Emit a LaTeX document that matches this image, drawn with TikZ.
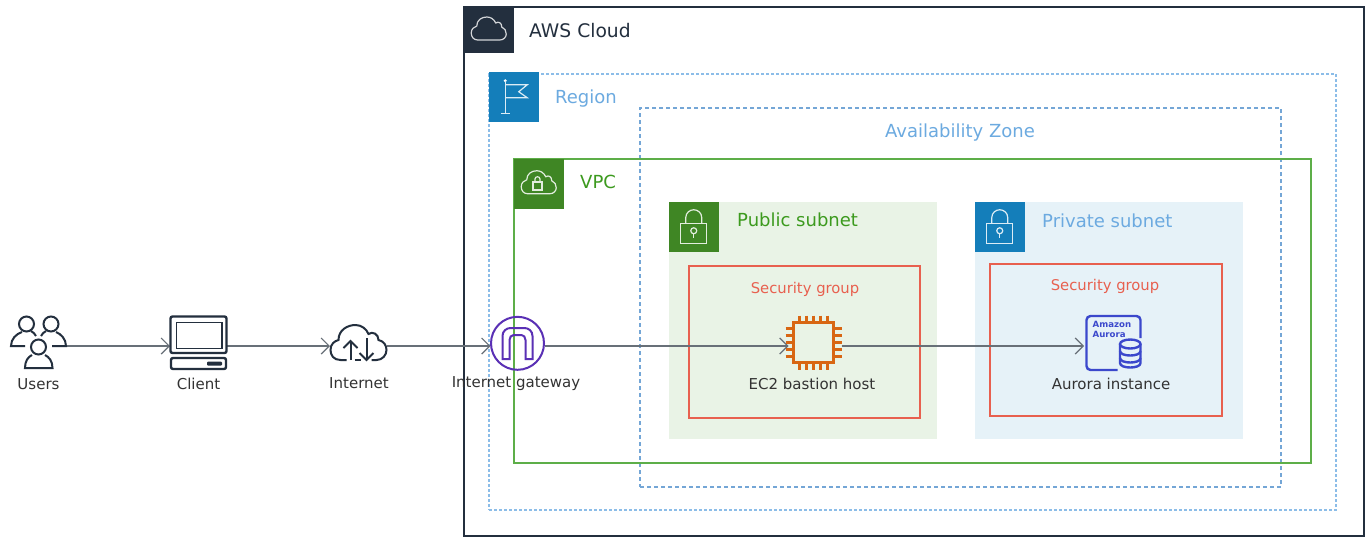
\documentclass[tikz,border=0pt]{standalone}
\usepackage{fontspec}
\setmainfont{DejaVu Sans}
\usepackage{tikz}
\usetikzlibrary{arrows.meta,positioning,calc}
\definecolor{awsnavy}{HTML}{232F3E}
\definecolor{awsblue}{HTML}{147EBA}
\definecolor{awsgreen}{HTML}{3F8624}
\definecolor{awsred}{HTML}{E8604F}
\definecolor{regionline}{HTML}{8CBDE8}
\definecolor{zoneline}{HTML}{74A6D6}
\definecolor{bluetext}{HTML}{6CAAE0}
\definecolor{greentext}{HTML}{3C9A1E}
\definecolor{vpcline}{HTML}{5DAE48}
\definecolor{publicfill}{HTML}{E9F3E6}
\definecolor{privatefill}{HTML}{E6F2F8}
\definecolor{flowline}{HTML}{687078}
\definecolor{labeltext}{HTML}{333333}
\definecolor{gatewaypurple}{HTML}{5A30B5}
\definecolor{chiporange}{HTML}{D86613}
\definecolor{auroraindigo}{HTML}{3B48CC}
\begin{document}
\begin{tikzpicture}[
  x=1pt, y=-1pt,
  flow/.style={draw=flowline, line width=1.2pt, -{Straight Barb[length=8pt,width=16pt,line width=1.2pt]}},
  holder/.style={anchor=north west, inner sep=0pt, outer sep=0pt},
  tile/.style={anchor=north west, inner sep=0pt, outer sep=0pt, minimum width=49.5pt, minimum height=49.5pt},
  iconspot/.style={inner sep=0pt, outer sep=0pt, minimum width=#1, minimum height=10pt},
  heading/.style={anchor=west, inner sep=0pt, font=\fontsize{18}{22}\selectfont},
  sgheading/.style={inner sep=0pt, text=awsred, font=\fontsize{14.8}{18}\selectfont},
  caption/.style={inner sep=0pt, text=labeltext, font=\fontsize{15}{18}\selectfont},
  cloudoutline/.pic={
    \draw (-11,10) .. controls (-15,10) and (-17.5,7) .. (-17.5,3) .. controls (-17.5,-1) and (-15,-3) .. (-12,-4)
      .. controls (-12,-10) and (-7,-13) .. (-2,-13) .. controls (2,-13) and (5,-11) .. (7,-7)
      .. controls (10,-9) and (13,-7) .. (13,-3) .. controls (16,-2) and (17.5,1) .. (17.5,4)
      .. controls (17.5,7) and (15,10) .. (11,10) -- cycle;
  },
  padlock/.pic={
    \draw (-13,-3) rectangle (13,17);
    \draw (-8,-3) -- (-8,-9) .. controls (-8,-14) and (-4,-17) .. (0,-17) .. controls (4,-17) and (8,-14) .. (8,-9) -- (8,-3);
    \draw (0,4) circle[radius=3pt];
    \draw (0,7) -- (0,11);
  },
  flagicon/.pic={
    \fill[white] (-8.5,-16) circle[radius=1.6pt];
    \draw (-8.5,-16) -- (-8.5,17);
    \draw (-13,17) -- (-4,17);
    \draw (-8.5,-12) -- (13.5,-12) -- (5,-5) -- (13.5,1) -- (-8.5,1);
  },
  usersicon/.pic={
    \draw (-11.5,-21) circle[radius=7.5pt];
    \draw (13,-21) circle[radius=7.5pt];
    \draw (0.5,2) circle[radius=7.5pt];
    \draw (-6,10) .. controls (-10,12) and (-13,16) .. (-13,23) -- (14.5,23) .. controls (14.5,16) and (11,12) .. (7,10);
    \draw (-16,-13) .. controls (-22,-11) and (-27,-6) .. (-27,1) -- (-13,1);
    \draw (-7,-14) .. controls (-5,-13) and (-3,-11) .. (-2,-9);
    \draw (18,-13) .. controls (23,-11) and (28,-6) .. (28,1) -- (14,1);
    \draw (8,-14) .. controls (6,-13) and (4,-11) .. (3,-9);
  },
  clienticon/.pic={
    \draw[rounded corners=2pt, line width=2.4pt] (-28,-29.5) rectangle (28,7);
    \draw[line width=1.8pt] (-22,-23.5) rectangle (23.5,2.5);
    \draw[rounded corners=2pt, line width=2.4pt] (-27.5,12) rectangle (27.5,23);
    \fill[awsnavy, rounded corners=1pt] (8.5,15.5) rectangle (23.5,19.5);
  },
  interneticon/.pic={
    \draw (-12,14) -- (-18,14) .. controls (-25,14) and (-28,9) .. (-28,4) .. controls (-28,-2) and (-24,-5) .. (-20,-6)
      .. controls (-20,-16) and (-11,-21) .. (-3,-21) .. controls (3,-21) and (8,-17) .. (10,-12)
      .. controls (14,-15) and (20,-12) .. (20,-6) .. controls (25,-5) and (28,-1) .. (28,4)
      .. controls (28,9) and (24,14) .. (18,14) -- (13,14);
    \draw (-4,14) -- (2,14);
    \draw (-8,14) -- (-8,-5);
    \draw (-15,2) -- (-8,-5) -- (-1,2);
    \draw (8,-8) -- (8,14);
    \draw (1,7) -- (8,14) -- (15,7);
  },
  gatewayicon/.pic={
    \draw (0,-2.7) circle[radius=26.5pt];
    \draw (-15,13) -- (-15,-10) .. controls (-15,-15) and (-11,-18) .. (-7,-18) -- (7,-18) .. controls (11,-18) and (15,-15) .. (15,-10)
      -- (15,13) -- (8,13) -- (8,-6) .. controls (8,-9) and (6,-11) .. (4,-11) -- (-4,-11) .. controls (-6,-11) and (-8,-9) .. (-8,-6)
      -- (-8,13) -- cycle;
  },
  chipicon/.pic={
    \draw (-20,-23) rectangle (20,17);
    \foreach \pin in {-14,-7,0,7,14} {
      \draw (\pin,-30) -- (\pin,-23);
      \draw (\pin,17) -- (\pin,24);
      \draw (-28,\pin-3) -- (-20,\pin-3);
      \draw (20,\pin-3) -- (28,\pin-3);
    }
  },
  auroraicon/.pic={
    \draw[rounded corners=4pt] (4,25) -- (-27,25) -- (-27,-29) -- (27,-29) -- (27,-7);
    \node[anchor=north west, inner sep=0pt, align=left, text=auroraindigo, font=\fontsize{8.6}{10}\selectfont\bfseries] (brand) at (-22,-25) {Amazon\\Aurora};
    \draw[fill=privatefill] (6.5,-1) -- (6.5,18) .. controls (6.5,24) and (27,24) .. (27,18) -- (27,-1);
    \draw[fill=privatefill] (16.75,-1) ellipse[x radius=10.25pt, y radius=4.5pt];
    \draw (6.5,6) .. controls (6.5,12) and (27,12) .. (27,6);
    \draw (6.5,13) .. controls (6.5,19) and (27,19) .. (27,13);
  }
]
\useasboundingbox (0,0) rectangle (1368,539);
\fill[white] (0,0) rectangle (1368,539);

\node[holder, draw=awsnavy, line width=1.1pt, minimum width=900pt, minimum height=529pt] (awscloud) at (464,7) {};
\node[holder, draw=regionline, line width=1.1pt, dashed, dash pattern=on 3pt off 2pt, minimum width=847pt, minimum height=436pt] (region) at (489,74) {};
\node[holder, draw=zoneline, line width=1.1pt, dashed, dash pattern=on 4pt off 3pt, minimum width=641pt, minimum height=379pt] (zone) at (640,108) {};
\node[holder, draw=vpcline, line width=1.1pt, minimum width=797pt, minimum height=304pt] (vpc) at (514,159) {};
\node[holder, fill=publicfill, minimum width=268pt, minimum height=237pt] (public) at (669,202) {};
\node[holder, fill=privatefill, minimum width=268pt, minimum height=237pt] (private) at (975,202) {};
\node[holder, draw=awsred, line width=1.1pt, minimum width=231pt, minimum height=152pt] (publicsg) at (689,266) {};
\node[holder, draw=awsred, line width=1.1pt, minimum width=232pt, minimum height=152pt] (privatesg) at (990,264) {};

\node[tile, fill=awsnavy, minimum height=46pt] (awstile) at (464,7) {};
\node[tile, fill=awsblue] (regiontile) at (489,72) {};
\node[tile, fill=awsgreen] (vpctile) at (514,159) {};
\node[tile, fill=awsgreen] (publictile) at (669,202) {};
\node[tile, fill=awsblue] (privatetile) at (975,202) {};

\pic[draw=white!80!awsnavy, line width=1.2pt] at (awstile) {cloudoutline};
\pic[draw=white!85!awsblue, line width=1.2pt] at (regiontile) {flagicon};
\pic[draw=white!85!awsgreen, line width=1.2pt] at (vpctile) {cloudoutline};
\draw[white!85!awsgreen, line width=1.2pt] (533,182) rectangle (542,190);
\draw[white!85!awsgreen, line width=1.2pt] (535,182) -- (535,179) .. controls (535,176) and (540,176) .. (540,179) -- (540,182);
\pic[draw=white!85!awsgreen, line width=1.2pt] at (publictile) {padlock};
\pic[draw=white!85!awsblue, line width=1.2pt] at (privatetile) {padlock};

\node[heading, text=awsnavy, font=\fontsize{18.7}{22}\selectfont] (awstitle) at (529,31) {AWS Cloud};
\node[heading, text=bluetext] (regiontitle) at (555,99) {Region};
\node[heading, anchor=center, text=bluetext] (zonetitle) at (960,133) {Availability Zone};
\node[heading, text=greentext] (vpctitle) at (580,182) {VPC};
\node[heading, text=greentext] (publictitle) at (737,220) {Public subnet};
\node[heading, text=bluetext] (privatetitle) at (1042,221) {Private subnet};
\node[sgheading] (publicsgtitle) at (805,289) {Security group};
\node[sgheading] (privatesgtitle) at (1105,286) {Security group};

\node[iconspot=56pt] (users) at (38,346) {};
\node[iconspot=57pt] (client) at (198.5,346) {};
\node[iconspot=57pt] (internet) at (358.5,346) {};
\node[iconspot=54pt] (gateway) at (517.5,346) {};
\node[iconspot=56pt] (bastion) at (813.5,346) {};
\node[iconspot=55pt] (aurora) at (1113.5,346) {};

\draw[flow] (users.east) -- (client.west);
\draw[flow] (client.east) -- (internet.west);
\draw[flow] (internet.east) -- (gateway.west);
\draw[flow, shorten >=-3pt] (gateway.east) -- (bastion.west);
\draw[flow, shorten >=2pt] (bastion.east) -- (aurora.west);

\pic[draw=awsnavy, line width=2pt, yshift=1pt] at (users) {usersicon};
\pic[draw=awsnavy] at (client) {clienticon};
\pic[draw=awsnavy, line width=2pt] at (internet) {interneticon};
\pic[draw=gatewaypurple, line width=2pt] at (gateway) {gatewayicon};
\pic[draw=chiporange, line width=2.4pt, yshift=.5pt] at (bastion) {chipicon};
\pic[draw=auroraindigo, line width=2.4pt, yshift=1pt] at (aurora) {auroraicon};

\node[caption] (userslabel) at (38.5,384) {Users};
\node[caption] (clientlabel) at (198.5,384) {Client};
\node[caption] (internetlabel) at (359,383) {Internet};
\node[caption] (gatewaylabel) at (516,384) {Internet gateway};
\node[caption] (bastionlabel) at (812,384) {EC2 bastion host};
\node[caption] (auroralabel) at (1111,384) {Aurora instance};
\end{tikzpicture}
\end{document}
